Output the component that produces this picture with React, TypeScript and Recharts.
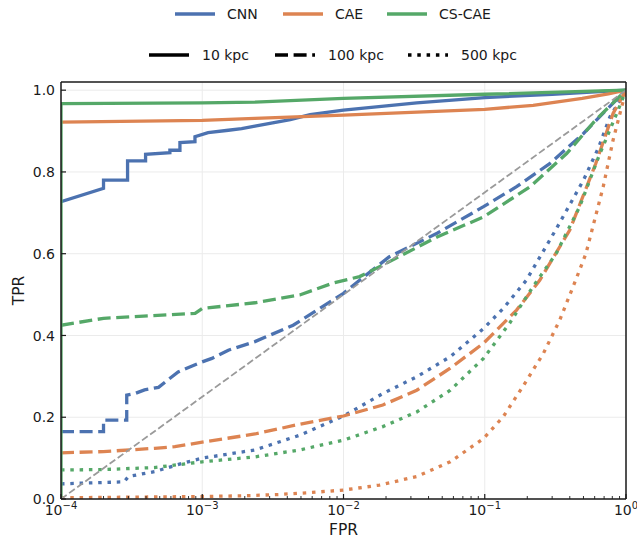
import { LineChart, Line, XAxis, YAxis, CartesianGrid, ReferenceLine } from "recharts"

const models = ["CNN", "CAE", "CS-CAE"]
const modelColors = ["#4c72b0", "#dd8452", "#55a868"]
const distances = ["10 kpc", "100 kpc", "500 kpc"]
const distanceDash = ["0", "13 5.6", "3.5 5.8"]

const xMajorTicks = [0.0001, 0.001, 0.01, 0.1, 1]
const xTickExponents = ["\u22124", "\u22123", "\u22122", "\u22121", "0"]
const xMinorTicks = [
  0.0002, 0.0003, 0.0004, 0.0005, 0.0006, 0.0007, 0.0008, 0.0009,
  0.002, 0.003, 0.004, 0.005, 0.006, 0.007, 0.008, 0.009,
  0.02, 0.03, 0.04, 0.05, 0.06, 0.07, 0.08, 0.09,
  0.2, 0.3, 0.4, 0.5, 0.6, 0.7, 0.8, 0.9,
]
const yTicks = [0, 0.2, 0.4, 0.6, 0.8, 1.0]

// 10 kpc
const cnn10Fpr = [0.0001, 0.0002, 0.0002, 0.000296, 0.000296, 0.000397, 0.000397, 0.00059, 0.00059, 0.000695, 0.000695, 0.000888, 0.000888, 0.0011, 0.00153, 0.0019, 0.00236, 0.0042, 0.0058, 0.01, 0.033, 0.1, 0.3, 1]
const cnn10Tpr = [0.727, 0.76, 0.78, 0.78, 0.827, 0.827, 0.843, 0.847, 0.853, 0.853, 0.872, 0.874, 0.886, 0.896, 0.902, 0.906, 0.912, 0.928, 0.94, 0.951, 0.969, 0.982, 0.99, 1.0]
const cae10Fpr = [0.0001, 0.001, 0.00236, 0.01, 0.1, 0.22, 0.49, 0.75, 1]
const cae10Tpr = [0.922, 0.926, 0.931, 0.939, 0.953, 0.963, 0.98, 0.991, 1.0]
const cscae10Fpr = [0.0001, 0.0001, 0.001, 0.00236, 0.01, 0.1, 1]
const cscae10Tpr = [0, 0.967, 0.969, 0.971, 0.98, 0.99, 1.0]

// 100 kpc
const cnn100Fpr = [0.0001, 0.0002, 0.0002, 0.000292, 0.000292, 0.000334, 0.00039, 0.00049, 0.000675, 0.00094, 0.00117, 0.00153, 0.00236, 0.0044, 0.0065, 0.01, 0.013, 0.021, 0.046, 0.098, 0.168, 0.29, 0.5, 0.69, 1]
const cnn100Tpr = [0.165, 0.165, 0.193, 0.193, 0.254, 0.258, 0.267, 0.273, 0.311, 0.332, 0.344, 0.364, 0.385, 0.425, 0.462, 0.503, 0.535, 0.592, 0.65, 0.715, 0.764, 0.821, 0.894, 0.944, 1.0]
const cae100Fpr = [0.0001, 0.0002, 0.00046, 0.00064, 0.001, 0.00236, 0.0049, 0.01, 0.019, 0.033, 0.057, 0.098, 0.168, 0.245, 0.4, 0.61, 0.81, 1]
const cae100Tpr = [0.113, 0.116, 0.124, 0.128, 0.139, 0.159, 0.183, 0.203, 0.23, 0.266, 0.32, 0.381, 0.462, 0.535, 0.658, 0.82, 0.943, 1.0]
const cscae100Fpr = [0.0001, 0.0002, 0.00089, 0.001, 0.00236, 0.0049, 0.0084, 0.013, 0.021, 0.046, 0.098, 0.21, 0.38, 0.61, 1]
const cscae100Tpr = [0.425, 0.442, 0.454, 0.466, 0.48, 0.499, 0.528, 0.544, 0.58, 0.641, 0.69, 0.764, 0.845, 0.927, 1.0]

// 500 kpc
const cnn500Fpr = [0.0001, 0.00028, 0.0003, 0.00046, 0.00072, 0.001, 0.00236, 0.0049, 0.01, 0.019, 0.033, 0.057, 0.098, 0.135, 0.197, 0.32, 0.5, 0.64, 0.77, 1]
const cnn500Tpr = [0.037, 0.042, 0.055, 0.067, 0.087, 0.1, 0.12, 0.156, 0.203, 0.258, 0.299, 0.348, 0.417, 0.466, 0.535, 0.66, 0.78, 0.86, 0.935, 1.0]
const cae500Fpr = [0.0001, 0.001, 0.002, 0.0035, 0.006, 0.01, 0.018, 0.033, 0.057, 0.098, 0.135, 0.186, 0.26, 0.34, 0.44, 0.52, 0.69, 0.81, 1]
const cae500Tpr = [0.003, 0.006, 0.008, 0.011, 0.016, 0.022, 0.034, 0.055, 0.091, 0.148, 0.201, 0.275, 0.356, 0.438, 0.535, 0.6, 0.764, 0.878, 1.0]
const cscae500Fpr = [0.0001, 0.0002, 0.00046, 0.001, 0.00236, 0.0049, 0.01, 0.019, 0.033, 0.057, 0.098, 0.15, 0.22, 0.32, 0.47, 0.64, 0.86, 1]
const cscae500Tpr = [0.071, 0.072, 0.077, 0.091, 0.103, 0.12, 0.144, 0.177, 0.213, 0.266, 0.344, 0.43, 0.52, 0.6, 0.715, 0.837, 0.943, 1.0]

// chance line
const chanceFpr = [0.0001, 1]
const chanceTpr = [0, 1]

const zip = (fpr: number[], tpr: number[]) => fpr.map((f, i) => ({ fpr: f, tpr: tpr[i] }))

const curves = [
  { model: 0, dist: 0, data: zip(cnn10Fpr, cnn10Tpr) },
  { model: 0, dist: 1, data: zip(cnn100Fpr, cnn100Tpr) },
  { model: 0, dist: 2, data: zip(cnn500Fpr, cnn500Tpr) },
  { model: 1, dist: 0, data: zip(cae10Fpr, cae10Tpr) },
  { model: 1, dist: 1, data: zip(cae100Fpr, cae100Tpr) },
  { model: 1, dist: 2, data: zip(cae500Fpr, cae500Tpr) },
  { model: 2, dist: 0, data: zip(cscae10Fpr, cscae10Tpr) },
  { model: 2, dist: 1, data: zip(cscae100Fpr, cscae100Tpr) },
  { model: 2, dist: 2, data: zip(cscae500Fpr, cscae500Tpr) },
]

const FONT = "DejaVu Sans"
const FS = 14
const LABEL_FS = 15.5
const INK = "#1a1a1a"

function XTick({ x, y, payload }: any) {
  const i = xMajorTicks.indexOf(payload.value)
  const major = i >= 0
  return (
    <g>
      <line x1={x} x2={x} y1={y} y2={y - (major ? 5 : 3)} stroke={INK} strokeWidth={major ? 1.2 : 0.9} />
      {major && (
        <text x={x} y={y + 16} textAnchor="middle" fontSize={FS} fill={INK} fontFamily={FONT}>
          <tspan>10</tspan>
          <tspan dy={-6} fontSize={10}>{xTickExponents[i]}</tspan>
        </text>
      )}
    </g>
  )
}

function YTick({ x, y, payload }: any) {
  return (
    <g>
      <line x1={x} x2={x + 5} y1={y} y2={y} stroke={INK} strokeWidth={1.2} />
      <text x={x - 6} y={y} dy="0.36em" textAnchor="end" fontSize={FS} fill={INK} fontFamily={FONT}>
        {payload.value.toFixed(1)}
      </text>
    </g>
  )
}

const modelLegendX = [175, 283, 387]
const distLegendX = [149, 275, 408]

function LegendOverlay() {
  return (
    <svg width={637} height={80} style={{ position: "absolute", left: 0, top: 0 }}>
      {models.map((m, i) => (
        <g key={m}>
          <line x1={modelLegendX[i]} x2={modelLegendX[i] + 40} y1={14} y2={14} stroke={modelColors[i]} strokeWidth={3.5} />
          <text x={modelLegendX[i] + 52} y={19} fontSize={FS} fill={INK} fontFamily={FONT}>{m}</text>
        </g>
      ))}
      {distances.map((d, i) => (
        <g key={d}>
          <line x1={distLegendX[i]} x2={distLegendX[i] + 40} y1={55} y2={55} stroke="#000" strokeWidth={3.5} strokeDasharray={distanceDash[i]} />
          <text x={distLegendX[i] + 53} y={60} fontSize={FS} fill={INK} fontFamily={FONT}>{d}</text>
        </g>
      ))}
    </svg>
  )
}

export default function App() {
  return (
    <div style={{ position: "absolute", left: 0, top: 0, width: 637, height: 539, background: "#fff" }}>
      <LineChart width={637} height={539} margin={{ top: 82, right: 11, bottom: 0, left: 0 }} style={{ fontFamily: FONT }}>
        <CartesianGrid stroke="#ebebeb" strokeWidth={1} verticalValues={xMajorTicks} horizontalValues={yTicks} />
        <XAxis
          dataKey="fpr"
          type="number"
          scale="log"
          domain={[0.0001, 1]}
          allowDataOverflow
          ticks={[...xMajorTicks, ...xMinorTicks]}
          interval={0}
          tick={<XTick />}
          tickLine={false}
          tickSize={0}
          tickMargin={0}
          height={40}
          axisLine={{ stroke: INK, strokeWidth: 1.5 }}
          label={{ value: "FPR", position: "insideBottom", offset: 4, fill: INK, fontSize: LABEL_FS, fontFamily: FONT, style: { fontSize: LABEL_FS } }}
        />
        <YAxis
          dataKey="tpr"
          type="number"
          domain={[0, 1.02]}
          allowDataOverflow
          ticks={yTicks}
          interval={0}
          tick={<YTick />}
          tickLine={false}
          tickSize={0}
          tickMargin={0}
          width={61}
          axisLine={{ stroke: INK, strokeWidth: 1.5 }}
          label={{ value: "TPR", angle: -90, position: "insideLeft", offset: 18, fill: INK, fontSize: LABEL_FS, fontFamily: FONT, style: { textAnchor: "middle", fontSize: LABEL_FS } }}
        />
        {curves.map((c) => (
          <Line
            key={`${c.model}-${c.dist}`}
            data={c.data}
            dataKey="tpr"
            type="linear"
            stroke={modelColors[c.model]}
            strokeWidth={3.3}
            strokeDasharray={c.dist === 0 ? undefined : distanceDash[c.dist]}
            dot={false}
            activeDot={false}
            isAnimationActive={false}
          />
        ))}
        <Line
          data={zip(chanceFpr, chanceTpr)}
          dataKey="tpr"
          type="linear"
          stroke="#9a9a9a"
          strokeWidth={1.8}
          strokeDasharray="7 3"
          dot={false}
          activeDot={false}
          isAnimationActive={false}
        />
        <ReferenceLine x={1} stroke={INK} strokeWidth={1.5} />
        <ReferenceLine y={1.02} stroke={INK} strokeWidth={1.5} />
      </LineChart>
      <LegendOverlay />
    </div>
  )
}
